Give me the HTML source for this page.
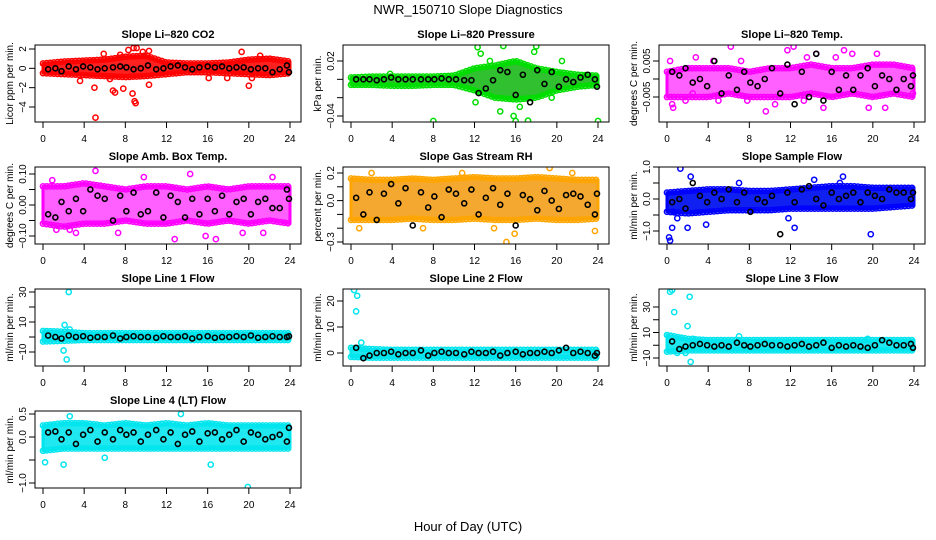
<!DOCTYPE html>
<html><head><meta charset="utf-8"><style>
body{margin:0;background:#fff}
svg{display:block;font-family:"Liberation Sans",sans-serif}
</style></head><body>
<svg id="c" width="936" height="540" viewBox="0 0 936 540">
<text x="468" y="14" text-anchor="middle" font-size="13">NWR_150710  Slope Diagnostics</text>
<text x="468" y="531" text-anchor="middle" font-size="13">Hour of Day (UTC)</text>
</svg>
<script>
const bandHours=[0,2,4,6,8,10,12,14,16,18,20,22,24];
const meanX=[0.5,1.2,1.8,2.5,3.2,3.9,4.6,5.3,6,6.8,7.5,8.1,8.8,9.5,10.2,11,11.7,12.4,13.1,13.8,14.5,15.2,16,16.7,17.4,18.1,18.8,19.5,20.2,20.9,21.6,22.3,23,23.7,23.9];
const xTicks=[0,4,8,12,16,20,24];

const co2Lo=[-0.5,-0.6,-0.7,-0.8,-0.9,-0.8,-0.6,-0.4,-0.4,-0.5,-0.6,-0.7,-0.5];
const co2Hi=[0.5,0.7,0.8,0.9,1.2,1.3,0.6,0.5,0.5,0.6,0.9,1.0,0.7];
const co2OutX=[5.1,8.9,9.0,6.8,7.0,8.7,5.0,7.8,8.8,9.1,8.3,10.3,9.7,16.1,20.0,20.3,19.3,3.6,10.3,6.5,17.9,5.9,7.5,21.1];
const co2OutY=[-5.1,-3.4,-3.6,-2.3,-2.5,-2.6,-2.0,-2.1,2.1,2.1,1.9,1.8,1.7,-1.0,-1.8,-1.0,1.7,-1.3,-1.7,-1.1,-1.0,1.5,1.4,1.3];
const co2Mean=[-0.1,0,-0.3,0.2,-0.1,0.2,0.1,-0.1,0,0.1,0.2,0.1,-0.1,0,0.3,-0.1,0,0.2,0.3,0.1,-0.1,0.1,0.2,0.1,0.2,0,0.1,0.1,-0.1,0,0,-0.4,-0.1,0.3,-0.4];

const presLo=[-0.006,-0.006,-0.007,-0.007,-0.006,-0.006,-0.012,-0.02,-0.022,-0.02,-0.012,-0.008,-0.006];
const presHi=[0.002,0.003,0.003,0.003,0.003,0.004,0.012,0.015,0.02,0.012,0.008,0.005,0.004];
const presOutX=[8,14.8,16,24,12.3,18,15.8,17.2,14.5,12.1,12.6,13.5,16.4,19.5,17.8,20.5,3.8];
const presOutY=[-0.047,0.048,-0.047,-0.047,0.035,0.036,-0.04,-0.045,-0.035,-0.025,0.028,0.02,-0.03,-0.02,0.03,0.02,0.006];
const presMean=[0,0,0,-0.001,0,0.002,0,0,0,0,0,0,0.001,0,0,-0.001,-0.001,-0.015,-0.01,-0.001,0.01,0.008,-0.017,0.005,-0.025,0.01,-0.005,0.008,-0.008,0,-0.003,0.002,0.005,0,-0.008];

const tempLo=[-0.005,-0.005,-0.005,-0.004,-0.005,-0.005,-0.005,-0.004,-0.005,-0.004,-0.005,-0.004,-0.005];
const tempHi=[0.002,0.003,0.003,0.003,0.002,0.003,0.003,0.004,0.003,0.003,0.004,0.004,0.003];
const tempOutX=[0.3,0.5,0.6,1.8,2.8,5.0,6.2,7.8,9.6,10.5,12.3,11.7,13.3,14.5,15.2,16.4,17.2,18.0,19.6,20.4,21.2,23.9,7.2,2.5,4.5,13.6];
const tempOutY=[0.005,-0.007,-0.008,-0.006,0.006,-0.006,0.009,-0.006,-0.009,-0.007,0.009,0.008,-0.006,0.007,-0.008,0.006,0.008,0.007,-0.008,0.007,-0.008,-0.004,0.005,-0.004,0.005,0.006];
const tempMean=[0.002,0.001,0.003,-0.001,0,-0.002,0.005,-0.004,0.001,-0.003,0.002,-0.001,-0.002,0,0.003,-0.004,0.004,-0.007,0.002,-0.005,0.007,-0.006,0.002,-0.003,0.001,-0.003,0.001,0.003,-0.002,0.001,0,-0.003,0,-0.002,0.001];

const ambLo=[-0.06,-0.07,-0.06,-0.06,-0.05,-0.06,-0.06,-0.05,-0.06,-0.05,-0.06,-0.05,-0.06];
const ambHi=[0.06,0.06,0.07,0.06,0.05,0.06,0.06,0.05,0.06,0.05,0.06,0.06,0.06];
const ambOutX=[5.1,3.2,1.3,14.3,12.8,16.8,15.8,19.4,21.4,9.8,2.6,0.9,7.3,22.3];
const ambOutY=[0.11,-0.09,-0.08,0.1,-0.11,-0.11,-0.1,-0.09,-0.09,0.09,-0.08,0.08,-0.09,0.09];
const ambMean=[-0.03,-0.04,0.01,-0.02,0.02,-0.02,0.05,0.03,0.02,-0.05,0.03,-0.02,0.04,-0.03,-0.02,0.04,-0.04,0.03,0.01,-0.04,0.02,-0.03,0.02,-0.02,0.03,-0.03,0.01,0.02,-0.03,0.01,0.02,-0.01,-0.01,0.05,0.02];

const rhLo=[-0.14,-0.14,-0.14,-0.13,-0.14,-0.14,-0.13,-0.14,-0.14,-0.13,-0.14,-0.14,-0.13];
const rhHi=[0.16,0.15,0.15,0.16,0.15,0.16,0.17,0.16,0.16,0.17,0.16,0.15,0.15];
const rhOutX=[15.1,15.9,19.3,23.7,0.8,7.0,13.9,2.0,10.8,21.5];
const rhOutY=[-0.3,-0.24,0.24,-0.22,-0.2,-0.2,-0.2,0.2,0.2,0.2];
const rhMean=[0.02,-0.1,0.06,-0.14,0.05,0.12,-0.02,0.09,-0.18,0.06,-0.05,0.03,-0.12,0.08,0.05,-0.02,0.08,-0.1,0.02,0.09,-0.03,0.05,-0.18,0.04,0.01,-0.07,0.07,0,-0.06,0.04,0.05,0.03,-0.03,-0.1,0.05];

const sfLo=[-0.4,-0.45,-0.4,-0.35,-0.35,-0.35,-0.3,-0.3,-0.3,-0.3,-0.3,-0.25,-0.2];
const sfHi=[0.2,0.25,0.3,0.3,0.25,0.25,0.3,0.35,0.4,0.4,0.35,0.35,0.35];
const sfOutX=[0.2,0.3,1.3,1.0,2.0,3.8,2.3,0.6,19.8,17.1,16.8,7.0,14.3,11.8,12.4,0.5];
const sfOutY=[-1.2,-1.3,0.95,-0.6,-0.9,-0.8,0.7,-0.4,-1.1,0.7,0.5,0.5,0.6,-0.6,-0.9,-0.9];
const sfMean=[-0.1,0,-0.3,0.5,0.1,-0.1,0.2,0,0.3,-0.1,0.2,-0.4,0,-0.1,0.1,-1.1,0.2,-0.1,0.3,0.4,0,-0.2,0.2,0,0.1,0.2,-0.1,0.2,0.1,0,0.3,0.2,0.2,0,0.2];

const l1Lo=[-3,-2.5,-2,-2,-2,-2,-2,-2,-2,-2,-2,-2,-2];
const l1Hi=[4,3.5,2.5,2.5,2.5,2.5,2.5,2.5,2.5,2.5,2.5,2.5,2.5];
const l1OutX=[2.5,2.3,2.0,2.1,2.6];
const l1OutY=[30,-15,-9,8,5];
const l1Mean=[1,0,-1,1,0,0.5,-0.5,0,0,1,-1,0,0.5,0,0,-0.5,0.5,0,0,0.5,-1,0,0.5,-0.5,0,0,0.5,0,1,-0.5,0,0.5,0,0,0.5];

const l2Lo=[-1.5,-1.8,-1.8,-1.8,-1.8,-1.8,-1.8,-1.8,-1.8,-1.8,-1.8,-1.8,-1.8];
const l2Hi=[2,1.5,1.2,1.2,1.2,1.2,1.2,1.2,1.2,1.2,1.2,1.2,1.2];
const l2OutX=[0.3,0.5,0.6,1.0];
const l2OutY=[25,16,22,4];
const l2Mean=[2,-2,-1,0,0,0.5,-0.5,0,0,1,-1,0,0.5,0,0,-0.5,0.5,0,0,0.5,-1,0,0.5,-0.5,0,0,0.5,0,1,2,0,0.5,0,-1,0];

const l3Lo=[-5,-4,-4,-4,-4,-4,-4,-4,-4,-4,-4,-4,-4];
const l3Hi=[8,5,4,4,4,4,4,4,4,4,4,4,4];
const l3OutX=[0.3,0.5,0.7,2.2,2.0,2.3,1.0,1.8,2.5,7,19.5];
const l3OutY=[42,44,26,38,15,-13,-6,-6,5,7,5];
const l3Mean=[3,-3,-1,0,1,0,-1,0,-1,2,0,-1,0,1,0,0,-1,0,1,-1,0,2,-2,0,-1,0,-1,-2,0,4,2,0,0,1,-2];

const l4Lo=[-0.3,-0.25,-0.25,-0.25,-0.25,-0.25,-0.25,-0.25,-0.25,-0.25,-0.25,-0.25,-0.25];
const l4Hi=[0.25,0.3,0.3,0.25,0.3,0.25,0.3,0.25,0.3,0.25,0.25,0.25,0.25];
const l4OutX=[19.9,13.4,16.3,0.2,2.0,2.6,6.0];
const l4OutY=[-1.1,0.5,-0.6,-0.55,-0.6,0.45,-0.45];
const l4Mean=[0.1,0.12,-0.05,0.1,-0.15,0.05,0.15,-0.1,0.1,-0.05,0.15,0.05,0.1,-0.1,0.05,0.15,-0.05,0.1,-0.15,0.05,0.12,-0.1,0.08,0.1,-0.05,0.05,0.15,-0.1,0.1,0.05,-0.05,0,0.05,-0.1,0.2];

const panels=[
 {name:'co2',title:'Slope Li\u2013820 CO2',yl:'Licor ppm per min.',col:0,row:0,color:'#ff0000',fill:'#ff2020',lo:co2Lo,hi:co2Hi,ox:co2OutX,oy:co2OutY,mean:co2Mean,v1:2,p1:49,v2:-4,p2:107,ticks:[2,0,-2,-4],labels:['2','0','\u22122','\u22124']},
 {name:'pressure',title:'Slope Li\u2013820 Pressure',yl:'kPa per min.',col:1,row:0,color:'#00dd00',fill:'#30c030',lo:presLo,hi:presHi,ox:presOutX,oy:presOutY,mean:presMean,v1:0.02,p1:61,v2:-0.04,p2:116,ticks:[0.02,0,-0.02,-0.04],labels:['0.02','','','\u22120.04']},
 {name:'li820-temp',title:'Slope Li\u2013820 Temp.',yl:'degrees C per min.',col:2,row:0,color:'#ff00ff',fill:'#ff60ff',lo:tempLo,hi:tempHi,ox:tempOutX,oy:tempOutY,mean:tempMean,v1:0.005,p1:61,v2:-0.005,p2:97,ticks:[0.005,0,-0.005],labels:['0.005','','\u22120.005']},
 {name:'amb-box-temp',title:'Slope Amb. Box Temp.',yl:'degrees C per min.',col:0,row:1,color:'#ff00ff',fill:'#ff60ff',lo:ambLo,hi:ambHi,ox:ambOutX,oy:ambOutY,mean:ambMean,v1:0.1,p1:174,v2:-0.1,p2:236,ticks:[0.1,0.05,0,-0.05,-0.1],labels:['0.10','','0.00','','\u22120.10']},
 {name:'gas-stream-rh',title:'Slope Gas Stream RH',yl:'percent per min.',col:1,row:1,color:'#ffa500',fill:'#f4a830',lo:rhLo,hi:rhHi,ox:rhOutX,oy:rhOutY,mean:rhMean,v1:0.2,p1:173,v2:-0.3,p2:242,ticks:[0.2,0.1,0,-0.1,-0.2,-0.3],labels:['0.2','','0.0','','','\u22120.3']},
 {name:'sample-flow',title:'Slope Sample Flow',yl:'ml/min per min.',col:2,row:1,color:'#0000ff',fill:'#1020f0',lo:sfLo,hi:sfHi,ox:sfOutX,oy:sfOutY,mean:sfMean,v1:1,p1:167,v2:-1,p2:231,ticks:[1,0.5,0,-0.5,-1],labels:['1.0','','0.0','','\u22121.0']},
 {name:'line1-flow',title:'Slope Line 1 Flow',yl:'ml/min per min.',col:0,row:2,color:'#00e5ee',fill:'#20e8f0',lo:l1Lo,hi:l1Hi,ox:l1OutX,oy:l1OutY,mean:l1Mean,v1:30,p1:292,v2:-10,p2:352,ticks:[30,20,10,0,-10],labels:['30','','10','','\u221210']},
 {name:'line2-flow',title:'Slope Line 2 Flow',yl:'ml/min per min.',col:1,row:2,color:'#00e5ee',fill:'#20e8f0',lo:l2Lo,hi:l2Hi,ox:l2OutX,oy:l2OutY,mean:l2Mean,v1:20,p1:301,v2:0,p2:353,ticks:[20,10,0],labels:['20','10','0']},
 {name:'line3-flow',title:'Slope Line 3 Flow',yl:'ml/min per min.',col:2,row:2,color:'#00e5ee',fill:'#20e8f0',lo:l3Lo,hi:l3Hi,ox:l3OutX,oy:l3OutY,mean:l3Mean,v1:30,p1:307,v2:-10,p2:358,ticks:[30,20,10,0,-10],labels:['30','','10','','\u221210']},
 {name:'line4-flow',title:'Slope Line 4 (LT) Flow',yl:'ml/min per min.',col:0,row:3,color:'#00e5ee',fill:'#20e8f0',lo:l4Lo,hi:l4Hi,ox:l4OutX,oy:l4OutY,mean:l4Mean,v1:0.5,p1:414,v2:0,p2:437,ticks:[0.5,0,-0.5,-1],labels:['0.5','0.0','','\u22121.0']}
];
const NS='http://www.w3.org/2000/svg';
const svg=document.getElementById('c');
function mk(tag,attrs,parent){const e=document.createElementNS(NS,tag);for(const k in attrs)e.setAttribute(k,attrs[k]);(parent||svg).appendChild(e);return e;}
const lefts=[35,343,659],tops=[45,167,289,411],W=266,H=77;
function interp(arr,h){const i=Math.min(11,Math.floor(h/2));const t=(h-bandHours[i])/2;return arr[i]+(arr[i+1]-arr[i])*t;}
panels.forEach(p=>{
 const L=lefts[p.col],T=tops[p.row];
 const g=mk('g',{});
 
 
 const xs=h=>L+8+h*(247/24);
 const k=(p.p2-p.p1)/(p.v2-p.v1);
 const ys=v=>Math.max(T+1,Math.min(T+H-1,p.p1+(v-p.v1)*k));
 const clip='clip-'+p.name;
 const cp=mk('clipPath',{id:clip},g);mk('rect',{x:L,y:T,width:W,height:H},cp);
 const pg=mk('g',{'clip-path':'url(#'+clip+')'},g);
 let pts=bandHours.map((h,i)=>xs(h)+','+ys(p.hi[i]));
 pts=pts.concat(bandHours.slice().reverse().map((h,j)=>xs(h)+','+ys(p.lo[12-j])));
 const band=mk('polygon',{points:pts.join(' '),fill:p.fill,stroke:p.color,'stroke-width':3,'stroke-linejoin':'round'},pg);
 
 
 for(let h=0;h<=24;h+=0.35){
  [interp(p.hi,h),interp(p.lo,h)].forEach(v=>{
   const c=mk('circle',{cx:xs(h),cy:ys(v),r:2.6,fill:'none',stroke:p.color,'stroke-width':1.5},pg);
   
   
  });
 }
 p.ox.forEach((x,i)=>{
  const c=mk('circle',{cx:xs(x),cy:ys(p.oy[i]),r:2.6,fill:'none',stroke:p.color,'stroke-width':1.5},pg);
  
  
 });
 p.mean.forEach((v,i)=>{
  const c=mk('circle',{cx:xs(meanX[i]),cy:ys(v),r:2.5,fill:'none',stroke:'#000','stroke-width':1.6},pg);
  
  
 });
 const box=mk('rect',{x:L,y:T,width:W,height:H,fill:'none',stroke:'#000','stroke-width':1},g);
 
 
 const tt=mk('text',{x:L+W/2,y:T-7,'text-anchor':'middle','font-size':11,'font-weight':'bold'},g);tt.textContent=p.title;
 
 
 mk('line',{x1:xs(0),x2:xs(24),y1:T+H,y2:T+H,stroke:'#000'},g);
 xTicks.forEach(h=>{
  mk('line',{x1:xs(h),x2:xs(h),y1:T+H,y2:T+H+6,stroke:'#000'},g);
  const t=mk('text',{x:xs(h),y:T+H+20,'text-anchor':'middle','font-size':10},g);t.textContent=h;
  
  
 });
 p.ticks.forEach((v,i)=>{
  const y=p.p1+(v-p.v1)*k;
  mk('line',{x1:L-6,x2:L,y1:y,y2:y,stroke:'#000'},g);
  if(p.labels[i]){const t=mk('text',{x:L-9,y:y,'text-anchor':'middle','font-size':10,transform:'rotate(-90 '+(L-9)+' '+y+')'},g);t.textContent=p.labels[i];
   
   }
 });
 const yl=mk('text',{x:L-22,y:T+H/2,'text-anchor':'middle','font-size':10,transform:'rotate(-90 '+(L-22)+' '+(T+H/2)+')'},g);yl.textContent=p.yl;
 
 
});
</script>
</body></html>
